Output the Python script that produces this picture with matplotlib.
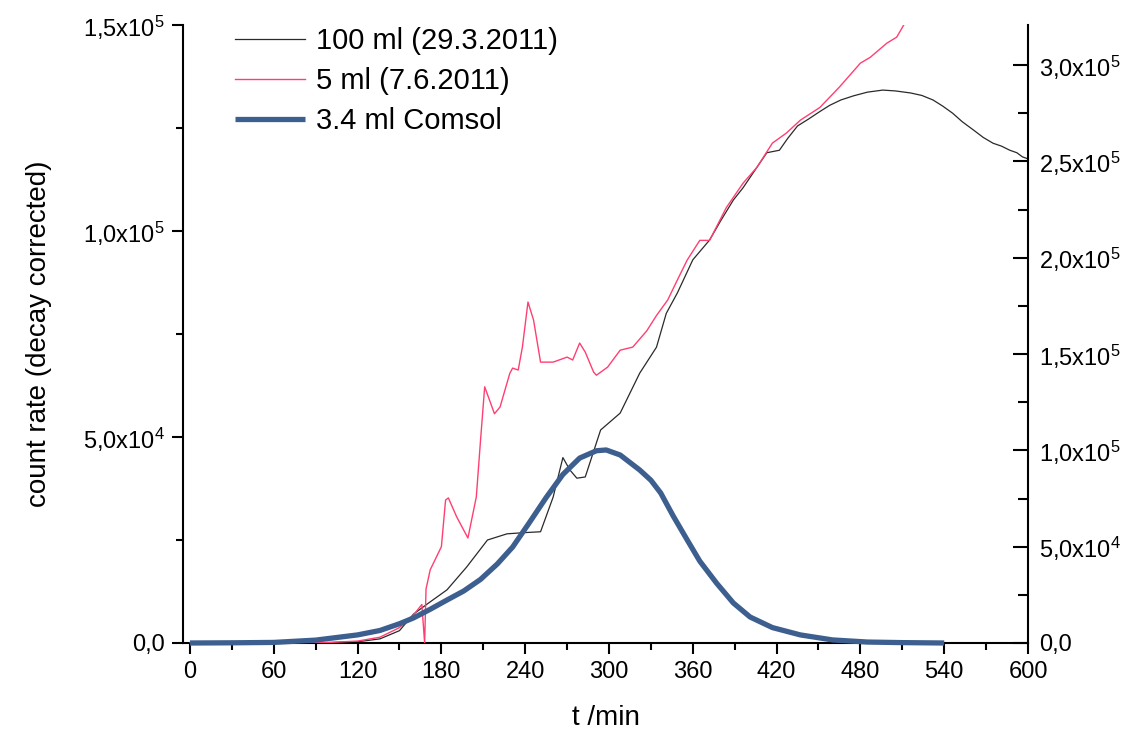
import numpy as np
import matplotlib
matplotlib.use('Agg')
import matplotlib.pyplot as plt
from matplotlib.ticker import MultipleLocator, FuncFormatter

plt.rcParams['font.family'] = ['Liberation Sans', 'DejaVu Sans']
plt.rcParams['mathtext.fontset'] = 'custom'
plt.rcParams['mathtext.rm'] = 'Liberation Sans'
plt.rcParams['mathtext.it'] = 'Liberation Sans'

# 100 ml (29.3.2011) - left axis
t_100ml = [0, 60, 100, 120, 136, 150, 160, 170, 184, 198, 213, 227, 240, 251, 260, 267,
           272, 277, 283, 294, 308, 322, 334, 341, 349, 360, 372, 380, 389, 396, 403,
           413, 422, 428, 435, 443, 451, 458, 466, 475, 485, 496, 505, 516, 524, 532,
           539, 546, 553, 561, 568, 575, 581, 587, 592, 596, 600]
c_100ml = [0, 0, 100, 300, 1000, 3000, 7000, 9500, 12900, 18400, 25000, 26500, 26800, 27000,
           35400, 45000, 42000, 40000, 40300, 51700, 55800, 65500, 71800, 80000, 85000,
           93000, 97800, 102500, 107500, 110500, 114000, 119000, 119600, 122500, 125500,
           127200, 129000, 130500, 131800, 132800, 133700, 134200, 134000, 133500, 132900,
           131800, 130300, 128600, 126500, 124500, 122700, 121300, 120600, 119600, 119000,
           118000, 117500]

# 5 ml (7.6.2011) - right axis
t_5ml = [0, 60, 100, 120, 136, 150, 160, 166, 168, 169, 172, 176, 180, 183, 185, 191,
         199, 205, 208, 211, 218, 222, 229, 231, 235, 238, 242, 246, 251, 260, 270, 274,
         279, 283, 289, 291, 299, 308, 317, 327, 334, 342, 350, 356, 365, 372, 384, 396,
         406, 417, 427, 437, 451, 465, 480, 487, 499, 506, 512]
c_5ml = [0, 0, 300, 1000, 3000, 8000, 14500, 20000, 0, 28000, 38000, 44000, 50000, 74200,
         75300, 65400, 54500, 75800, 105000, 133000, 119000, 122500, 140000, 142700,
         141700, 153600, 177000, 167600, 145800, 145800, 148400, 146900, 155700, 151000,
         140600, 139000, 143200, 152000, 153600, 162000, 170000, 178000, 190000, 198800,
         209000, 209000, 226000, 238700, 247000, 259500, 264700, 271400, 278000, 288600,
         301000, 304000, 311400, 314500, 322000]

# 3.4 ml Comsol - right axis
t_comsol = [0, 30, 60, 90, 120, 136, 150, 160, 172, 184, 196, 208, 220, 231, 243, 255,
            267, 279, 291, 298, 308, 322, 330, 337, 346, 356, 365, 377, 389, 401, 417, 437,
            460, 485, 510, 540]
c_comsol = [0, 100, 300, 1500, 4200, 6500, 10000, 13000, 17500, 22300, 27000, 33000,
            41000, 49800, 62500, 75500, 87500, 96000, 99800, 100200, 97600, 89800, 84500,
            77900, 65900, 53500, 42500, 31100, 20800, 13500, 8000, 4200, 1600, 500, 200, 0]

x_ticks = [0, 60, 120, 180, 240, 300, 360, 420, 480, 540, 600]
labels = ['100 ml (29.3.2011)', '5 ml (7.6.2011)', '3.4 ml Comsol']


def sci_label(v, pos=None):
    if abs(v) < 1e-9:
        return '0,0'
    if v < 0:
        return ''
    exp = int(np.floor(np.log10(v) + 1e-9))
    mant = v / 10 ** exp
    return ('%.1f' % mant).replace('.', ',') + 'x10$^{%d}$' % exp


fig = plt.figure(figsize=(11.23, 7.39), dpi=100)
ax = fig.add_axes([183 / 1123, 96 / 739, 845 / 1123, 618 / 739])
ax2 = ax.twinx()

l1, = ax.plot(t_100ml, c_100ml, color='#2a2a2a', lw=0.9)
l2, = ax2.plot(t_5ml, c_5ml, color='#ff3f72', lw=1.0)
l3, = ax2.plot(t_comsol, c_comsol, color='#3d5f8f', lw=3.8, solid_capstyle='butt',
               solid_joinstyle='round', clip_on=False, zorder=3)

ax.set_xlim(-5, 600)
ax.set_ylim(0, 1.5e5)
ax2.set_ylim(0, 3.208e5)

ax.set_xticks(x_ticks)
ax.xaxis.set_minor_locator(MultipleLocator(30))
ax.yaxis.set_major_locator(MultipleLocator(5e4))
ax.yaxis.set_minor_locator(MultipleLocator(2.5e4))
ax.yaxis.set_major_formatter(FuncFormatter(sci_label))
ax2.yaxis.set_major_locator(MultipleLocator(5e4))
ax2.yaxis.set_minor_locator(MultipleLocator(2.5e4))
ax2.yaxis.set_major_formatter(FuncFormatter(sci_label))

for a in (ax, ax2):
    a.spines['top'].set_visible(False)
    for s in a.spines.values():
        s.set_linewidth(1.5)
ax.spines['right'].set_visible(False)
ax2.spines['left'].set_visible(False)
ax2.spines['bottom'].set_visible(False)

ax.tick_params(axis='both', which='major', direction='out', length=8, width=1.5,
               labelsize=17, pad=5)
ax.tick_params(axis='both', which='minor', direction='out', length=5, width=1.5)
ax2.tick_params(axis='y', which='major', direction='in', length=11, width=1.5,
                labelsize=17, pad=8)
ax2.tick_params(axis='y', which='minor', direction='in', length=7, width=1.5)

ax.set_xlabel('t /min', fontsize=20, labelpad=16)
ax.set_ylabel('count rate (decay corrected)', fontsize=20, labelpad=22)

ax2.legend([l1, l2, l3], labels, loc='upper left', bbox_to_anchor=(0.062, 0.997),
           frameon=False, fontsize=21, handlelength=2.4, handletextpad=0.35,
           labelspacing=0.42, borderaxespad=0, borderpad=0)

fig.savefig('out.png', dpi=100)
